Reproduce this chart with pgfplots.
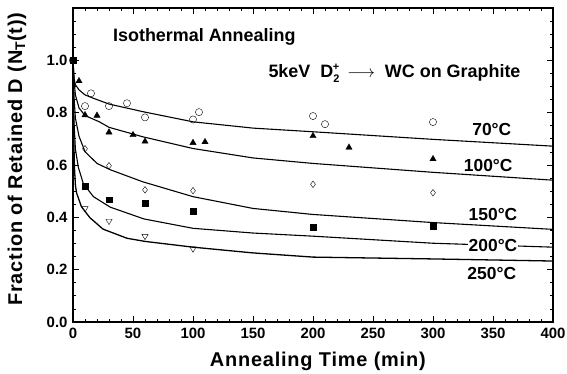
\documentclass[border=0pt]{standalone}
\usepackage{fontspec}
\setmainfont{Liberation Sans}
\usepackage{amsmath,amssymb}
\usepackage{pgfplots}
\pgfplotsset{compat=1.18}
\begin{document}
\begin{tikzpicture}
\begin{axis}[
  scale only axis, width=480bp, height=314bp,
  xmin=0, xmax=400, ymin=0, ymax=1.2,
  xtick={0,50,...,400}, minor x tick num=4,
  ytick={0,0.2,...,1.0}, minor ytick={0.05,0.1,...,1.2},
  tick align=inside, major tick length=6bp, minor tick length=3bp,
  axis line style={line width=1.1pt}, tick style={line width=0.8pt, black},
  xticklabel style={font=\bfseries\fontsize{15}{16}\selectfont, /pgf/number format/assume math mode=true, yshift=-3bp},
  yticklabel style={font=\bfseries\fontsize{15}{16}\selectfont, /pgf/number format/assume math mode=true, /pgf/number format/fixed, /pgf/number format/precision=1, /pgf/number format/fixed zerofill, xshift=-2bp},
  xlabel={Annealing Time (min)},
  ylabel={Fraction of Retained D (N\textsubscript{T}(t))},
  label style={font=\bfseries\fontsize{20}{22}\selectfont\addfontfeature{LetterSpace=4}},
  xlabel style={at={(axis description cs:0.510,-0.124)}, anchor=center},
  ylabel style={at={(axis description cs:-0.1167,0.519)}, anchor=center},
  clip=false,
]
% fitted curves
\addplot[black, line width=1.1pt] coordinates {(0,1.0)(1,0.927)(2,0.907)(5,0.887)(10,0.868)(17,0.855)(30,0.833)(58,0.804)(100,0.765)(150,0.741)(200,0.727)(300,0.698)(400,0.672)};
\addplot[black, line width=1.1pt] coordinates {(0,1.0)(1,0.917)(2,0.868)(5,0.818)(10,0.789)(22,0.765)(30,0.744)(58,0.708)(100,0.663)(150,0.627)(200,0.606)(300,0.572)(400,0.542)};
\addplot[black, line width=1.1pt] coordinates {(0,1.0)(1,0.848)(2,0.779)(5,0.710)(10,0.651)(20,0.606)(31,0.582)(58,0.536)(100,0.479)(150,0.434)(200,0.411)(300,0.380)(400,0.354)};
\addplot[black, line width=1.1pt] coordinates {(0,1.0)(0.5,0.838)(1,0.749)(2,0.661)(4.4,0.592)(8.6,0.529)(17,0.479)(31,0.439)(59,0.394)(100,0.358)(150,0.340)(200,0.328)(300,0.301)(400,0.286)};
\addplot[black, line width=1.3pt] coordinates {(0,1.0)(0.3,0.838)(0.7,0.690)(1.2,0.592)(2,0.523)(3,0.493)(7,0.441)(14,0.399)(25,0.355)(45,0.320)(60,0.308)(100,0.286)(150,0.264)(200,0.248)(300,0.241)(400,0.233)};
% data points
\addplot[only marks, mark=o, mark size=3.6pt, black, thin] coordinates {(0,1.0)(10,0.825)(15,0.874)(30,0.825)(45,0.836)(60,0.782)(100,0.774)(105,0.802)(200,0.787)(210,0.756)(300,0.764)};
\addplot[only marks, mark=triangle*, mark size=3.6pt, black] coordinates {(0,1.0)(5,0.921)(10,0.791)(20,0.789)(30,0.725)(50,0.715)(60,0.690)(100,0.685)(110,0.688)(200,0.711)(230,0.667)(300,0.623)};
\addplot[only marks, mark=diamond, mark size=3.3pt, black, thin] coordinates {(0,1.0)(10,0.662)(30,0.597)(60,0.505)(100,0.502)(200,0.526)(300,0.494)};
\addplot[only marks, mark=square*, mark size=2.8pt, black] coordinates {(0,1.0)(10,0.518)(30,0.468)(60,0.454)(100,0.424)(200,0.362)(300,0.367)};
\addplot[only marks, mark=triangle, mark options={rotate=180}, mark size=3.6pt, black, thin] coordinates {(0,1.0)(10,0.434)(30,0.386)(60,0.328)(100,0.280)};
% labels
\node[font=\bfseries\fontsize{18}{20}\selectfont, anchor=west] at (axis cs:30.5,1.088) {Isothermal Annealing};
\node[font=\bfseries\fontsize{18}{20}\selectfont, anchor=west] at (axis cs:160,0.951) {5keV\ \ D\raisebox{-5bp}{\fontsize{11}{11}\selectfont 2}\hspace{-6.5bp}\raisebox{7bp}{\fontsize{11}{11}\selectfont +}\ \,$\longrightarrow$\ \ WC on Graphite};
\node[font=\bfseries\fontsize{17.5}{19}\selectfont] at (axis cs:349,0.734) {70°C};
\node[font=\bfseries\fontsize{17.5}{19}\selectfont, fill=white, inner sep=1pt] at (axis cs:346,0.600) {100°C};
\node[font=\bfseries\fontsize{17.5}{19}\selectfont, fill=white, inner sep=1pt] at (axis cs:350,0.409) {150°C};
\node[font=\bfseries\fontsize{17.5}{19}\selectfont, fill=white, inner sep=1pt] at (axis cs:350,0.294) {200°C};
\node[font=\bfseries\fontsize{17.5}{19}\selectfont] at (axis cs:349,0.187) {250°C};
\end{axis}
\pgfresetboundingbox
\path[use as bounding box] (-73bp,-52bp) rectangle (494bp,322bp);
\end{tikzpicture}
\end{document}
